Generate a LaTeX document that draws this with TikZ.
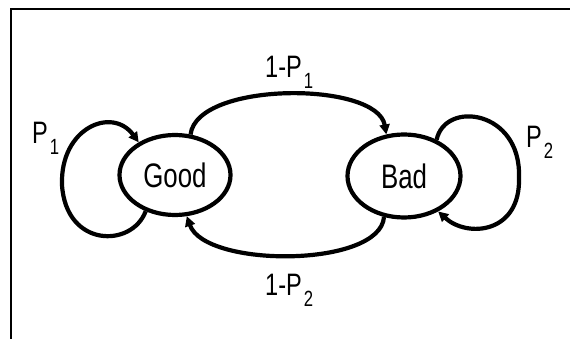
\documentclass[tikz,border=0pt]{standalone}
\usepackage{fontspec}
\usetikzlibrary{shapes.geometric,arrows.meta}
\newfontfamily\lblfont[FakeStretch=0.76]{Liberation Sans}
\newcommand{\subidx}[1]{\raisebox{-11pt}{\fontsize{22}{22}\selectfont\kern2pt #1}}
\begin{document}
\begin{tikzpicture}[x=1pt,y=-1pt,
  state/.style={ellipse,draw,line width=4.2pt,inner sep=0pt,
    font=\lblfont\fontsize{34}{34}\selectfont},
  trans/.style={line width=4.2pt,-{Triangle[length=10pt,width=10pt]}},
  prob/.style={inner sep=0pt,anchor=base west,
    font=\lblfont\fontsize{31}{31}\selectfont}]
  \useasboundingbox (0,0) rectangle (570,339);
  % frame
  \draw[line width=1.5pt] (11,339) -- (11,9) -- (570,9);
  % states
  \node[state,minimum width=111pt,minimum height=80pt] (G) at (175,175) {Good};
  \node[state,minimum width=113pt,minimum height=83pt] (B) at (404,176) {Bad};
  % transitions between states
  \draw[trans] (G.69) .. controls (197,81) and (377,81) .. (B.113);
  \draw[trans] (B.244) .. controls (380,268) and (205,268) .. (G.286);
  % self loops
  \draw[trans] (G.231) .. controls (132,248) and (66,248) .. (62,185)
    .. controls (60,128) and (112,106) .. (G.138);
  \draw[trans] (B.48) .. controls (445,100) and (521,110) .. (519,177)
    .. controls (521,234) and (467,238) .. (B.314);
  % transition probabilities
  \node[prob] (p12) at (265,78) {1-P\subidx{1}};
  \node[prob] (p21) at (265,295) {1-P\subidx{2}};
  \node[prob] (p11) at (32,144) {P\subidx{1}};
  \node[prob] (p22) at (526,148) {P\subidx{2}};
\end{tikzpicture}
\end{document}
